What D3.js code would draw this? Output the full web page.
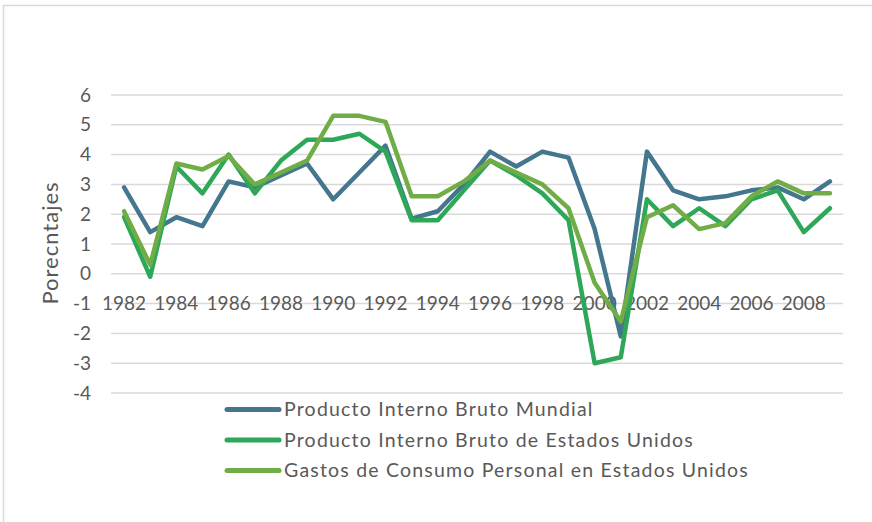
<!DOCTYPE html>
<html>
<head>
<meta charset="utf-8">
<script src="https://cdn.jsdelivr.net/npm/d3@7"></script>
<style>
  body { margin: 0; background: #fff; }
  text { font-family: Lato, "Open Sans", sans-serif; fill: #595959; }
</style>
</head>
<body>
<div id="chart"></div>
<script>
var years = d3.range(1982, 2010);
var tickYears = years.filter(function(y) { return y % 2 === 0; });
var yTicks = [6, 5, 4, 3, 2, 1, 0, -1, -2, -3, -4];

var seriesNames = [
  "Producto Interno Bruto Mundial",
  "Producto Interno Bruto de Estados Unidos",
  "Gastos de Consumo Personal en Estados Unidos"
];
var pibMundial = [2.9, 1.4, 1.9, 1.6, 3.1, 2.9, 3.3, 3.7, 2.5, 3.4, 4.3, 1.85, 2.1, 3.0,
  4.1, 3.6, 4.1, 3.9, 1.5, -2.1, 4.1, 2.8, 2.5, 2.6, 2.8, 2.9, 2.5, 3.1];
var pibEEUU = [1.9, -0.1, 3.6, 2.7, 4.0, 2.7, 3.8, 4.5, 4.5, 4.7, 4.1, 1.8, 1.8, 2.8,
  3.8, 3.3, 2.7, 1.8, -3.0, -2.8, 2.5, 1.6, 2.2, 1.6, 2.5, 2.8, 1.4, 2.2];
var consumoEEUU = [2.1, 0.3, 3.7, 3.5, 3.95, 3.0, 3.4, 3.8, 5.3, 5.3, 5.1, 2.6, 2.6, 3.1,
  3.8, 3.4, 3.0, 2.2, -0.3, -1.6, 1.9, 2.3, 1.5, 1.7, 2.6, 3.1, 2.7, 2.7];
var colors = ["#44778d", "#2ea858", "#70ad47"];

var svgWidth = 872, svgHeight = 522;
var margin = { top: 95, right: 29, bottom: 129, left: 111 };
var width = svgWidth - margin.left - margin.right;

var svg = d3.select("#chart").append("svg")
  .attr("width", svgWidth)
  .attr("height", svgHeight);

// outer frame (only top and left edges visible)
svg.append("path")
  .attr("d", "M3.5,522V5.5H872")
  .attr("fill", "none")
  .attr("stroke", "#d9d9d9")
  .attr("stroke-width", 1.5);

var x = d3.scaleBand()
  .domain(years)
  .range([margin.left, margin.left + width]);

var y = d3.scaleLinear()
  .domain([-4, 6])
  .range([393, 95]);

// gridlines
svg.append("g")
  .selectAll("line")
  .data(yTicks)
  .enter()
  .append("line")
  .attr("x1", margin.left)
  .attr("x2", margin.left + width)
  .attr("y1", d => y(d))
  .attr("y2", d => y(d))
  .attr("stroke", "#d9d9d9")
  .attr("stroke-width", 1.5);

// y tick labels
svg.append("g")
  .selectAll("text")
  .data(yTicks)
  .enter()
  .append("text")
  .attr("x", 91)
  .attr("y", d => y(d))
  .attr("dy", "0.35em")
  .attr("text-anchor", "end")
  .style("font-size", "19px")
  .text(d => d);

// x tick labels (sit on the -1 gridline)
svg.append("g")
  .selectAll("text")
  .data(tickYears)
  .enter()
  .append("text")
  .attr("x", d => x(d) + x.bandwidth() / 2)
  .attr("y", y(-1))
  .attr("dy", "0.35em")
  .attr("text-anchor", "middle")
  .style("font-size", "19px")
  .text(d => d);

// y axis title
svg.append("text")
  .attr("transform", "translate(50, 243) rotate(-90)")
  .attr("text-anchor", "middle")
  .attr("dy", "0.35em")
  .style("font-size", "22px")
  .style("letter-spacing", "1px")
  .text("Porecntajes");

var line = d3.line()
  .x((d, i) => x(years[i]) + x.bandwidth() / 2)
  .y(d => y(d));

var allSeries = [pibMundial, pibEEUU, consumoEEUU];

svg.append("g")
  .selectAll("path")
  .data(allSeries)
  .enter()
  .append("path")
  .attr("d", d => line(d))
  .attr("fill", "none")
  .attr("stroke", (d, i) => colors[i])
  .attr("stroke-width", 4.5)
  .attr("stroke-linejoin", "round")
  .attr("stroke-linecap", "round");

// legend
var legend = svg.append("g")
  .selectAll("g")
  .data(seriesNames)
  .enter()
  .append("g")
  .attr("transform", (d, i) => `translate(0, ${409.5 + i * 30.5})`);

legend.append("line")
  .attr("x1", 227)
  .attr("x2", 279)
  .attr("stroke", (d, i) => colors[i])
  .attr("stroke-width", 5)
  .attr("stroke-linecap", "round");

legend.append("text")
  .attr("x", 284)
  .attr("dy", "0.35em")
  .style("font-size", "19.5px")
  .style("letter-spacing", "1.2px")
  .text(d => d);
</script>
</body>
</html>
